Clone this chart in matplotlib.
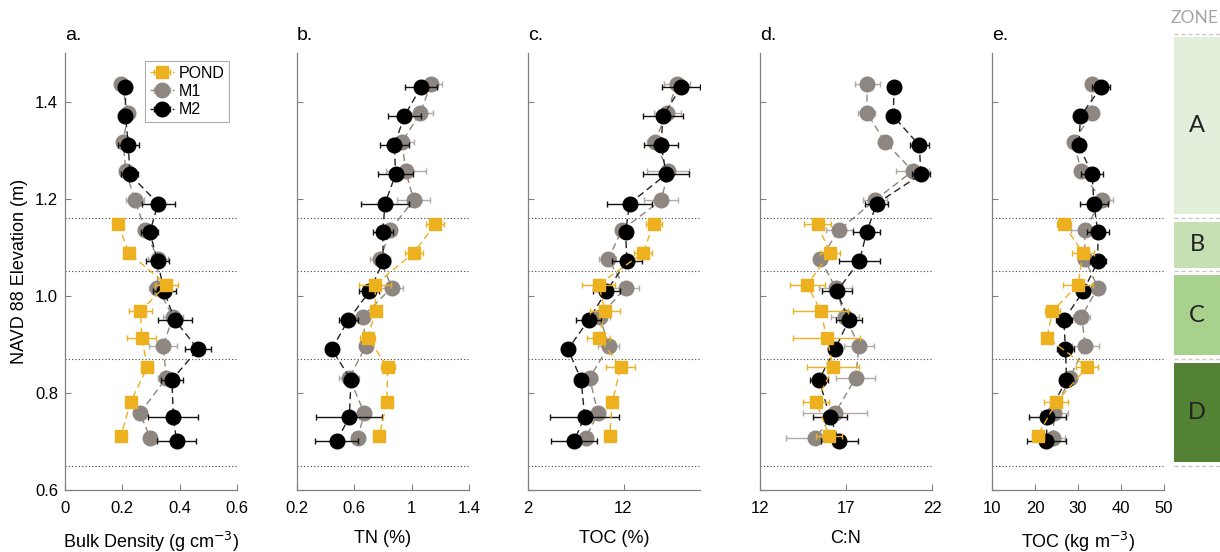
import matplotlib
matplotlib.use("Agg")
import matplotlib.pyplot as plt
from matplotlib.patches import Rectangle

plt.rcParams['font.family'] = ['Liberation Sans', 'DejaVu Sans']

# ---------------- data ----------------
depth_M1 = [1.437, 1.377, 1.317, 1.257, 1.197, 1.136, 1.075, 1.017, 0.957, 0.897, 0.831, 0.758, 0.707]
depth_M2 = [1.430, 1.370, 1.310, 1.250, 1.190, 1.131, 1.071, 1.009, 0.950, 0.890, 0.827, 0.751, 0.700]
depth_POND = [1.147, 1.088, 1.023, 0.968, 0.914, 0.853, 0.781, 0.712]

# a. Bulk density
bd_M1 = [0.197, 0.220, 0.203, 0.212, 0.244, 0.279, 0.325, 0.322, 0.377, 0.342, 0.354, 0.261, 0.298]
bd_M1_err = [0.005, 0.010, 0.020, 0.020, 0.030, 0.025, 0.035, 0.030, 0.035, 0.050, 0.030, 0.020, 0.010]
bd_M2 = [0.211, 0.211, 0.221, 0.226, 0.325, 0.296, 0.323, 0.346, 0.383, 0.464, 0.373, 0.378, 0.389]
bd_M2_err = [0.010, 0.010, 0.036, 0.030, 0.057, 0.030, 0.040, 0.040, 0.060, 0.046, 0.037, 0.087, 0.067]
bd_POND = [0.186, 0.223, 0.354, 0.263, 0.268, 0.287, 0.229, 0.195]
bd_POND_err = [0.005, 0.005, 0.040, 0.040, 0.050, 0.020, 0.005, 0.005]

# b. TN
tn_M1 = [1.135, 1.061, 0.933, 0.958, 1.014, 0.851, 0.781, 0.861, 0.658, 0.681, 0.565, 0.670, 0.623]
tn_M1_err = [0.08, 0.085, 0.08, 0.14, 0.115, 0.04, 0.07, 0.08, 0.03, 0.01, 0.07, 0.02, 0.01]
tn_M2 = [1.065, 0.949, 0.879, 0.888, 0.814, 0.798, 0.802, 0.705, 0.558, 0.442, 0.577, 0.565, 0.477]
tn_M2_err = [0.11, 0.116, 0.10, 0.12, 0.17, 0.07, 0.05, 0.07, 0.066, 0.01, 0.05, 0.23, 0.15]
tn_POND = [1.163, 1.014, 0.744, 0.749, 0.693, 0.833, 0.826, 0.775]
tn_POND_err = [0.06, 0.064, 0.11, 0.03, 0.05, 0.05, 0.01, 0.01]

# c. TOC (%)
toc_M1 = [17.57, 16.56, 15.24, 16.70, 15.94, 11.86, 10.36, 12.21, 9.49, 10.47, 8.45, 9.32, 8.03]
toc_M1_err = [1.36, 1.4, 0.8, 2.2, 1.8, 0.6, 0.9, 1.4, 1.1, 1.1, 0.8, 0.3, 0.2]
toc_M2 = [18.03, 16.11, 15.94, 16.46, 12.63, 12.21, 12.35, 10.19, 8.34, 6.18, 7.57, 7.92, 6.81]
toc_M2_err = [1.97, 2.06, 1.8, 2.44, 2.32, 0.6, 1.57, 1.4, 1.3, 0.2, 0.4, 3.6, 2.4]
toc_POND = [15.14, 14.02, 9.39, 10.08, 9.39, 11.69, 10.82, 10.54]
toc_POND_err = [0.84, 0.96, 1.7, 1.6, 1.2, 1.5, 0.2, 0.2]

# d. C:N
cn_M1 = [18.24, 18.20, 19.27, 20.88, 18.69, 16.61, 15.49, 16.40, 16.94, 17.76, 17.56, 16.36, 15.20]
cn_M1_err = [0.73, 0.5, 0.1, 0.97, 0.7, 0.8, 0.2, 0.97, 0.8, 0.87, 1.14, 1.84, 1.67]
cn_M2 = [19.79, 19.75, 21.26, 21.36, 18.78, 18.20, 17.78, 16.46, 17.17, 16.36, 15.43, 16.07, 16.61]
cn_M2_err = [0.1, 0.1, 0.54, 0.5, 0.68, 0.78, 1.2, 0.87, 0.77, 0.2, 0.53, 1.0, 1.07]
cn_POND = [15.35, 16.07, 14.75, 15.53, 15.88, 16.26, 15.26, 16.03]
cn_POND_err = [0.78, 0.6, 1.0, 1.6, 1.94, 1.5, 0.75, 0.75]

# e. TOC (kg m-3)
tocd_M1 = [33.14, 33.30, 29.03, 30.74, 35.48, 31.59, 31.59, 34.62, 30.81, 31.71, 28.06, 24.50, 24.19]
tocd_M1_err = [1.3, 0.5, 0.5, 0.5, 2.7, 3.3, 1.7, 0.5, 1.9, 3.1, 0.5, 3.2, 2.8]
tocd_M2 = [35.40, 30.58, 30.19, 33.30, 33.69, 34.62, 34.62, 31.20, 26.70, 27.09, 27.32, 22.82, 22.66]
tocd_M2_err = [2.1, 0.5, 0.5, 2.5, 3.3, 2.6, 1.8, 0.5, 1.8, 1.9, 0.5, 4.3, 4.5]
tocd_POND = [26.67, 31.16, 30.0, 24.03, 22.79, 32.09, 24.96, 20.62]
tocd_POND_err = [1.6, 2.6, 3.6, 1.7, 0.5, 2.6, 2.8, 1.4]

panel_letters = ['a.', 'b.', 'c.', 'd.', 'e.']
xlabels = ['Bulk Density (g cm$^{-3}$)', 'TN (%)', 'TOC (%)', 'C:N', 'TOC (kg m$^{-3}$)']
xlims = [(0, 0.6), (0.2, 1.4), (2, 20), (12, 22), (10, 50)]
xticks = [[0, 0.2, 0.4, 0.6], [0.2, 0.6, 1.0, 1.4], [2, 12], [12, 17, 22], [10, 20, 30, 40, 50]]
xticklabels = [['0', '0.2', '0.4', '0.6'], ['0.2', '0.6', '1', '1.4'], ['2', '12'],
               ['12', '17', '22'], ['10', '20', '30', '40', '50']]
yticks = [0.6, 0.8, 1.0, 1.2, 1.4]
zone_lines = [1.16, 1.05, 0.87, 0.65]
zone_edges = [1.54, 1.16, 1.05, 0.87, 0.65]
zone_names = ['A', 'B', 'C', 'D']
zone_colors = ['#e2efda', '#c6e0b4', '#a9d18e', '#548235']

series_names = ['POND', 'M1', 'M2']
panels = [
    (bd_POND, bd_POND_err, bd_M1, bd_M1_err, bd_M2, bd_M2_err),
    (tn_POND, tn_POND_err, tn_M1, tn_M1_err, tn_M2, tn_M2_err),
    (toc_POND, toc_POND_err, toc_M1, toc_M1_err, toc_M2, toc_M2_err),
    (cn_POND, cn_POND_err, cn_M1, cn_M1_err, cn_M2, cn_M2_err),
    (tocd_POND, tocd_POND_err, tocd_M1, tocd_M1_err, tocd_M2, tocd_M2_err),
]

# ---------------- styling ----------------
c_pond = '#edb120'
c_m1 = '#8e8680'
c_m1_err = '#b0aba7'
c_m2 = '#000000'
spine_c = '#808080'

W, H = 1220, 552
fig = plt.figure(figsize=(W / 100, H / 100), dpi=100)

ax_lefts = [65, 297, 528, 760, 992]
ax_w = 172
ax_bottom = 1 - 490 / H
ax_h = (490 - 53) / H

dash = (0, (5, 3))
for i, (pv, pe, m1v, m1e, m2v, m2e) in enumerate(panels):
    ax = fig.add_axes([ax_lefts[i] / W, ax_bottom, ax_w / W, ax_h])
    for yl in zone_lines:
        ax.axhline(yl, color='#444444', lw=0.8, ls=(0, (1, 2)), zorder=1)
    h1 = ax.errorbar(m1v, depth_M1, xerr=m1e, color=c_m1, ecolor=c_m1_err, ls=dash, lw=1,
                     marker='o', ms=10.5, mec=c_m1, mfc=c_m1, capsize=2.5, elinewidth=1,
                     capthick=1, zorder=3)
    h2 = ax.errorbar(m2v, depth_M2, xerr=m2e, color='#222222', ecolor='#111111', ls=dash, lw=1,
                     marker='o', ms=10.5, mec=c_m2, mfc=c_m2, capsize=2.5, elinewidth=1,
                     capthick=1, zorder=4)
    h0 = ax.errorbar(pv, depth_POND, xerr=pe, color=c_pond, ecolor=c_pond, ls=dash, lw=1,
                     marker='s', ms=8.5, mec=c_pond, mfc=c_pond, capsize=2.5, elinewidth=1,
                     capthick=1, zorder=5)
    ax.set_xlim(*xlims[i])
    ax.set_ylim(0.6, 1.5)
    ax.set_xticks(xticks[i])
    ax.set_xticklabels(xticklabels[i])
    ax.set_yticks(yticks)
    if i == 0:
        ax.set_yticklabels(['%.1f' % v for v in yticks])
        ax.set_ylabel('NAVD 88 Elevation (m)', fontsize=13, labelpad=5)
        leg = ax.legend([h0, h1, h2], series_names, loc='upper right', fontsize=11.5,
                        frameon=True, fancybox=False, handlelength=1.5, handletextpad=0.3,
                        borderpad=0.3, labelspacing=0.2, borderaxespad=0.5)
        leg.get_frame().set_edgecolor('#999999')
        leg.get_frame().set_linewidth(0.8)
    else:
        ax.set_yticklabels([])
    ax.set_xlabel(xlabels[i], fontsize=13, labelpad=10)
    for s in ['top', 'right']:
        ax.spines[s].set_visible(False)
    for s in ['left', 'bottom']:
        ax.spines[s].set_color(spine_c)
        ax.spines[s].set_linewidth(0.9)
    ax.tick_params(direction='in', length=4, color=spine_c, labelsize=12)
    ax.tick_params(axis='x', pad=8)
    ax.tick_params(axis='y', pad=5)
    ax.text(0.0, 1.02, panel_letters[i], transform=ax.transAxes, fontsize=14,
            ha='left', va='bottom')

# ---------------- zone bar ----------------
zax = fig.add_axes([1174 / W, ax_bottom, (W - 1174) / W, ax_h])
zax.set_xlim(0, 1)
zax.set_ylim(0.6, 1.5)
zax.axis('off')
gap = 0.008
for k in range(4):
    top = zone_edges[k] - gap
    bot = zone_edges[k + 1] + gap
    zax.add_patch(Rectangle((0, bot), 1.2, top - bot, facecolor=zone_colors[k],
                            edgecolor='none', clip_on=False))
    zax.text(0.5, (top + bot) / 2, zone_names[k], ha='center', va='center',
             fontsize=17, color='#222222', family=['Lato', 'DejaVu Sans'])
for ze in zone_edges:
    zax.plot([0, 1.2], [ze, ze], color='#c8c8c8', lw=1, ls=(0, (3, 2)), clip_on=False)
zax.text(0.45, 1.572, 'ZONE', ha='center', va='center', fontsize=12.5, color='#a6a6a6',
         family=['Lato', 'DejaVu Sans'])

fig.savefig('out.png', dpi=100)
